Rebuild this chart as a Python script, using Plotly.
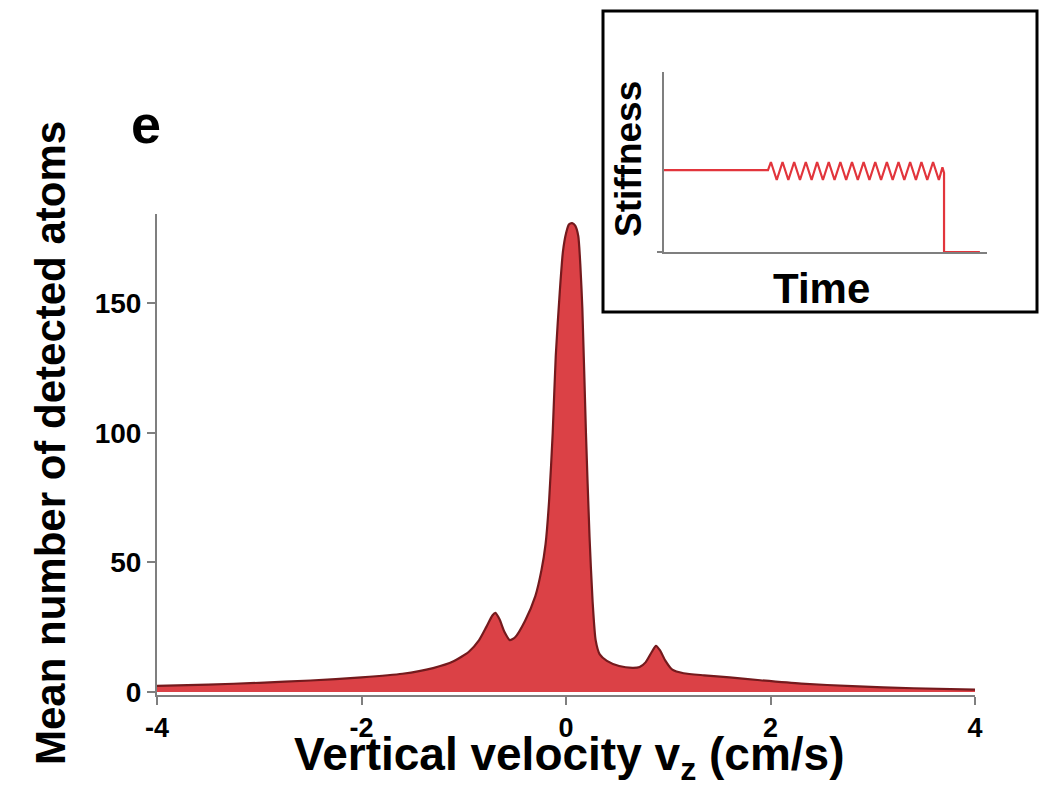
import plotly.graph_objects as go

# ---- main chart data ----
vz = [-4.00, -3.50, -3.00, -2.50, -2.00, -1.60, -1.30, -1.10,
      -0.95, -0.85, -0.78, -0.72, -0.69, -0.65, -0.60, -0.55, -0.50, -0.40,
      -0.30, -0.24, -0.20, -0.165, -0.13, -0.10, -0.06, -0.03, 0.00, 0.03,
      0.06, 0.09, 0.12, 0.14, 0.16, 0.195, 0.23, 0.26, 0.29, 0.33,
      0.40, 0.52, 0.65, 0.72, 0.78, 0.84, 0.88, 0.92, 0.97, 1.04,
      1.15, 1.35, 1.60, 1.90, 2.30, 2.80, 3.40, 4.00]
atoms = [2.3, 2.8, 3.5, 4.4, 5.6, 7.0, 9.2, 11.8,
         15.5, 20.0, 25.0, 29.5, 30.5, 28.0, 23.0, 20.0, 21.0, 27.5,
         37.0, 47.0, 57.0, 74.0, 100.0, 130.0, 155.0, 170.0, 177.0, 180.5,
         181.0, 180.0, 176.0, 165.0, 148.0, 100.0, 60.0, 35.0, 20.0, 14.5,
         12.0, 10.0, 9.3, 9.6, 11.5, 15.5, 17.8, 16.0, 12.2, 8.6,
         7.2, 6.4, 5.6, 4.5, 3.2, 2.2, 1.4, 0.9]
x_ticks = [-4, -2, 0, 2, 4]
y_ticks = [0, 50, 100, 150]

# ---- inset schematic data (stiffness vs time) ----
inset_time = [0.00, 3.22, 3.31, 3.49, 3.67, 3.85, 4.03, 4.21, 4.39, 4.57,
              4.74, 4.92, 5.10, 5.28, 5.46, 5.64, 5.82, 6.00, 6.18, 6.36,
              6.54, 6.72, 6.90, 7.08, 7.26, 7.44, 7.62, 7.80, 7.97, 8.15,
              8.33, 8.51, 8.62, 8.67, 8.67, 9.78]
inset_stiff = [0.455, 0.455, 0.50, 0.40, 0.50, 0.40, 0.50, 0.40, 0.50, 0.40,
               0.50, 0.40, 0.50, 0.40, 0.50, 0.40, 0.50, 0.40, 0.50, 0.40,
               0.50, 0.40, 0.50, 0.40, 0.50, 0.40, 0.50, 0.40, 0.50, 0.40,
               0.50, 0.40, 0.47, 0.44, 0.00, 0.00]

W, H = 1040, 785
FONT = "Liberation Sans, Arial, sans-serif"


def px_x(p):
    return p / W


def px_y(p):
    return (H - p) / H


fig = go.Figure()

fig.add_trace(go.Scatter(
    x=vz, y=atoms, mode="lines", fill="tozeroy",
    line=dict(color="#741a1d", width=2.2, shape="spline", smoothing=0.6),
    fillcolor="#db4146", showlegend=False, hoverinfo="skip",
    xaxis="x", yaxis="y"))

fig.add_trace(go.Scatter(
    x=inset_time, y=inset_stiff, mode="lines",
    line=dict(color="#e2353c", width=2.2),
    showlegend=False, hoverinfo="skip", xaxis="x2", yaxis="y2"))

axis_common = dict(showgrid=False, zeroline=False, showline=True,
                   linecolor="#7f7f7f", linewidth=2, ticks="outside",
                   tickcolor="#7f7f7f", tickwidth=2, ticklen=8,
                   automargin=False)

fig.update_layout(
    width=W, height=H,
    margin=dict(l=0, r=0, t=0, b=0, pad=0, autoexpand=False),
    paper_bgcolor="white", plot_bgcolor="rgba(0,0,0,0)",
    xaxis=dict(domain=[px_x(157), px_x(975)], range=[-4.0, 4.0],
               tickvals=x_ticks, ticktext=[str(v) for v in x_ticks],
               tickfont=dict(family=FONT, size=27, color="black", weight="bold"),
               anchor="y", **axis_common),
    yaxis=dict(domain=[px_y(695), px_y(214)], range=[-1.2, 184.5],
               tickvals=y_ticks, ticktext=[str(v) for v in y_ticks],
               tickfont=dict(family=FONT, size=28, color="black", weight="bold"),
               anchor="x", **axis_common),
    xaxis2=dict(domain=[px_x(664), px_x(987)], range=[0, 10],
                showgrid=False, zeroline=False, showline=True,
                linecolor="#7f7f7f", linewidth=2, showticklabels=False,
                ticks="", anchor="y2", automargin=False),
    yaxis2=dict(domain=[px_y(252), px_y(72)], range=[0, 1],
                showgrid=False, zeroline=False, showline=True,
                linecolor="#7f7f7f", linewidth=2, showticklabels=False,
                ticks="", anchor="x2", automargin=False),
)

# inset frame
fig.add_shape(type="rect", xref="paper", yref="paper",
              x0=px_x(603), x1=px_x(1037), y0=px_y(312), y1=px_y(11),
              line=dict(color="black", width=3), fillcolor="rgba(0,0,0,0)",
              layer="above")
# small overhang of inset time axis to the left
fig.add_shape(type="line", xref="paper", yref="paper",
              x0=px_x(657), x1=px_x(664), y0=px_y(252), y1=px_y(252),
              line=dict(color="#7f7f7f", width=2))

annots = [
    dict(text="Mean number of detected atoms", x=px_x(50), y=px_y(443),
         textangle=-90, size=42),
    dict(text="Vertical velocity v<sub>z</sub> (cm/s)", x=px_x(569), y=px_y(757),
         textangle=0, size=46),
    dict(text="e", x=px_x(146), y=px_y(124), textangle=0, size=54),
    dict(text="Stiffness", x=px_x(629), y=px_y(159), textangle=-90, size=37),
    dict(text="Time", x=px_x(821), y=px_y(288), textangle=0, size=42),
]
for a in annots:
    fig.add_annotation(text=a["text"], x=a["x"], y=a["y"], xref="paper",
                       yref="paper", xanchor="center", yanchor="middle",
                       textangle=a["textangle"], showarrow=False,
                       font=dict(family=FONT, size=a["size"], color="black",
                                 weight="bold"))

fig.write_html("out.html")
